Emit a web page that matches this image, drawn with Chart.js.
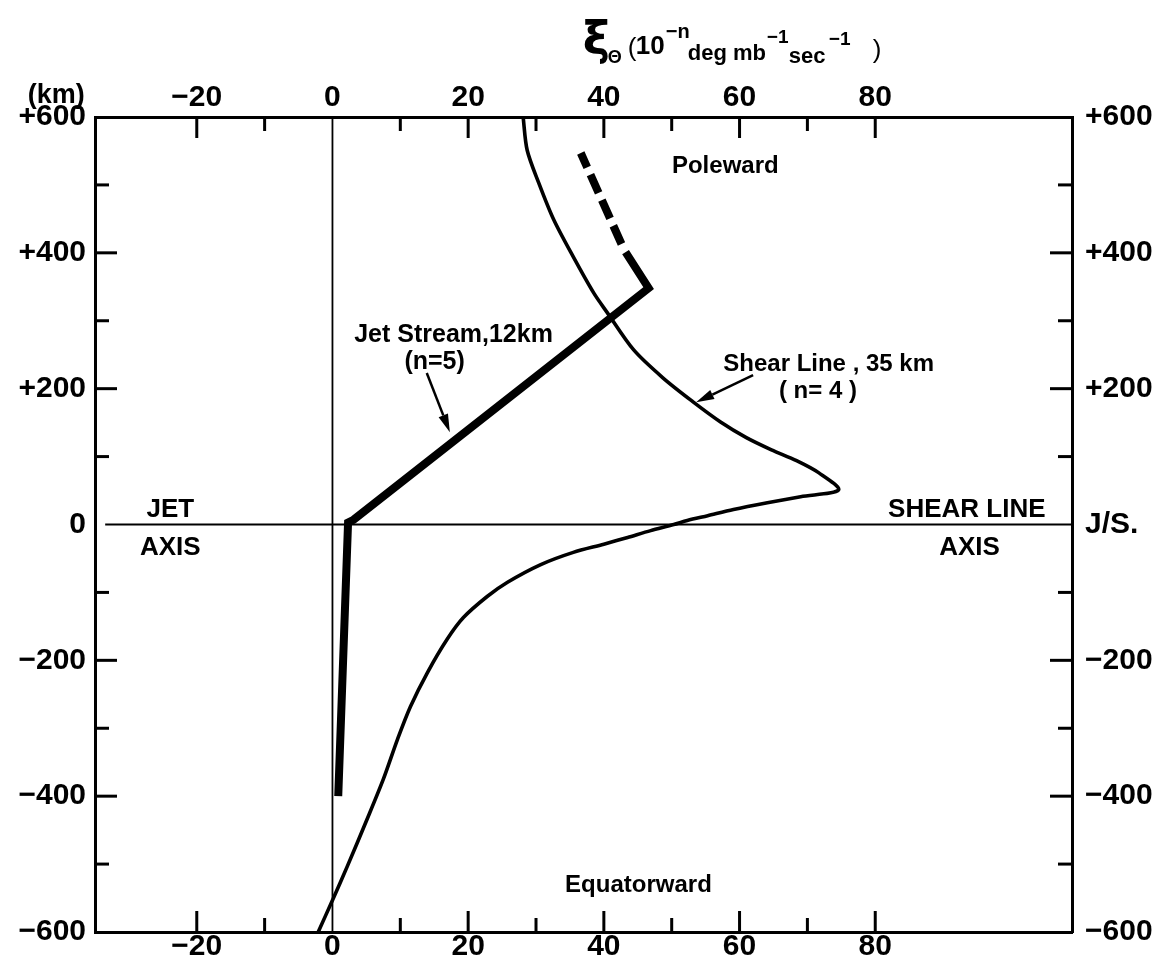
<!DOCTYPE html>
<html>
<head>
<meta charset="utf-8">
<title>Shear line and jet stream profiles</title>
<script src="https://cdn.jsdelivr.net/npm/chart.js@4.4.1/dist/chart.umd.min.js"></script>
<style>
  body { margin: 0; background: #fff; }
  #wrap { width: 1160px; height: 960px; }
</style>
</head>
<body>
<div id="wrap"><canvas id="chart" width="1160" height="960"></canvas></div>
<script>
// distance from the axis in km (+ poleward) and the value
const shearY = [600, 551, 503, 449, 394, 341, 312, 257, 216, 181, 151, 128, 110, 94, 76, 51,
                41, 32, 22, 13, 6, 0, -9, -19, -29, -41, -59, -85, -106, -137, -169, -218,
                -268, -316, -375, -434, -503, -551, -600];
const shearX = [28.1, 28.7, 30.4, 32.6, 35.5, 38.5, 40.5, 44.4, 48.7, 53.1, 57.2, 61.0, 64.7, 68.4, 71.7, 74.6,
                69.0, 64.1, 59.1, 55.3, 52.3, 50.3, 46.9, 43.5, 40.0, 35.5, 30.7, 25.8, 22.8, 19.3, 16.9, 14.0,
                11.5, 9.6, 7.5, 5.1, 2.2, 0.1, -2.1];

const jetY = [-400, 3, 7, 348, 401];
const jetX = [0.85, 2.3, 3.1, 46.6, 43.2];
const jetDashY = [413, 547];
const jetDashX = [42.6, 36.6];

const xTicks = [-20, 0, 20, 40, 60, 80];
const yTicks = [-600, -400, -200, 0, 200, 400, 600];
const xMin = -35, xMax = 109, yMin = -600, yMax = 600;

function pts(xs, ys) {
    return xs.map((x, i) => ({ x: x, y: ys[i] }));
}

const FONT = 'Liberation Sans';

// labels written on the figure, placed in data units
const notes = [
    { text: 'Poleward', x: 57.9, y: 528, align: 'center', size: 24 },
    { text: 'Equatorward', x: 45.1, y: -531, align: 'center', size: 24 },
    { text: 'Jet Stream,12km', x: 3.2, y: 279, align: 'left', size: 25 },
    { text: '(n=5)', x: 10.6, y: 239, align: 'left', size: 25 },
    { text: 'Shear Line , 35 km', x: 57.6, y: 236, align: 'left', size: 24 },
    { text: '( n= 4 )', x: 65.8, y: 196, align: 'left', size: 24 },
    { text: 'JET', x: -23.9, y: 22, align: 'center', size: 26 },
    { text: 'AXIS', x: -23.9, y: -35, align: 'center', size: 26 },
    { text: 'SHEAR LINE', x: 93.5, y: 22, align: 'center', size: 26 },
    { text: 'AXIS', x: 93.9, y: -35, align: 'center', size: 26 },
    { text: '(km)', x: -36.5, y: 632, align: 'right', size: 27 }
];
const arrows = [
    { from: [13.9, 223], to: [17.3, 136] },
    { from: [62.0, 220], to: [53.6, 180] }
];
// axis title pieces: offset from the start of the title, baseline, font
const titleParts = [
    { t: 'ξ', dx: 0, y: 54, font: 'bold 46px DejaVu Sans' },
    { t: 'Θ', dx: 25, y: 63, font: 'bold 18px ' + FONT },
    { t: '(', dx: 45, y: 56, font: '26px ' + FONT },
    { t: '10', dx: 53, y: 54, font: 'bold 26px ' + FONT },
    { t: '−n', dx: 83, y: 38, font: 'bold 20px ' + FONT },
    { t: 'deg mb', dx: 105, y: 60, font: 'bold 22px ' + FONT },
    { t: '−1', dx: 184, y: 43, font: 'bold 19px ' + FONT },
    { t: 'sec', dx: 206, y: 63, font: 'bold 22px ' + FONT },
    { t: '−1', dx: 246, y: 45, font: 'bold 19px ' + FONT },
    { t: ')', dx: 290, y: 58, font: '26px ' + FONT }
];

function line(ctx, x1, y1, x2, y2) {
    ctx.beginPath();
    ctx.moveTo(x1, y1);
    ctx.lineTo(x2, y2);
    ctx.stroke();
}

const decor = {
    id: 'decor',
    afterDatasetsDraw(chart) {
        const ctx = chart.ctx;
        const xs = chart.scales.x, ys = chart.scales.y;
        const a = chart.chartArea;
        ctx.save();
        ctx.strokeStyle = '#000';
        ctx.fillStyle = '#000';
        ctx.lineWidth = 3;

        // inward tick marks
        for (let v = -20; v <= 80; v += 10) {
            if (v === 0) continue;
            const len = v % 20 === 0 ? 21 : 14;
            const px = xs.getPixelForValue(v);
            line(ctx, px, a.top, px, a.top + len);
            line(ctx, px, a.bottom, px, a.bottom - len);
        }
        for (let v = -500; v <= 500; v += 100) {
            if (v === 0) continue;
            const len = v % 200 === 0 ? 22 : 14;
            const py = ys.getPixelForValue(v);
            line(ctx, a.left, py, a.left + len, py);
            line(ctx, a.right, py, a.right - len, py);
        }

        // arrows
        ctx.lineWidth = 2.5;
        arrows.forEach(ar => {
            const x1 = xs.getPixelForValue(ar.from[0]), y1 = ys.getPixelForValue(ar.from[1]);
            const x2 = xs.getPixelForValue(ar.to[0]), y2 = ys.getPixelForValue(ar.to[1]);
            const ang = Math.atan2(y2 - y1, x2 - x1);
            const hl = 18, hw = 5;
            const bx = x2 - hl * Math.cos(ang), by = y2 - hl * Math.sin(ang);
            line(ctx, x1, y1, bx, by);
            ctx.beginPath();
            ctx.moveTo(x2, y2);
            ctx.lineTo(bx + hw * Math.sin(ang), by - hw * Math.cos(ang));
            ctx.lineTo(bx - hw * Math.sin(ang), by + hw * Math.cos(ang));
            ctx.closePath();
            ctx.fill();
        });

        // text notes
        ctx.textBaseline = 'middle';
        notes.forEach(n => {
            ctx.font = 'bold ' + n.size + 'px ' + FONT;
            ctx.textAlign = n.align;
            ctx.fillText(n.text, xs.getPixelForValue(n.x), ys.getPixelForValue(n.y));
        });

        // axis title above the top scale
        ctx.textAlign = 'left';
        ctx.textBaseline = 'alphabetic';
        const tx = xs.getPixelForValue(36.9);
        titleParts.forEach(p => {
            ctx.font = p.font;
            ctx.fillText(p.t, tx + p.dx, p.y);
        });
        ctx.restore();
    }
};

function fixTicks(list) {
    return scale => { scale.ticks = list.map(v => ({ value: v })); };
}
function signed(v) {
    return v > 0 ? '+' + v : (v < 0 ? '−' + Math.abs(v) : '0');
}
const tickFont = { family: FONT, size: 30, weight: 'bold', lineHeight: 1 };

const ctx = document.getElementById('chart').getContext('2d');
new Chart(ctx, {
    type: 'line',
    data: {
        datasets: [
            {
                label: 'Jet axis',
                data: [{ x: -33.5, y: 0 }, { x: xMax, y: 0 }],
                borderColor: '#000', borderWidth: 1.8, pointRadius: 0
            },
            {
                label: 'Zero',
                data: [{ x: 0, y: yMin }, { x: 0, y: yMax }],
                borderColor: '#000', borderWidth: 1.8, pointRadius: 0
            },
            {
                label: 'Shear Line, 35 km (n=4)',
                data: pts(shearX, shearY),
                borderColor: '#000', borderWidth: 3.6, pointRadius: 0, tension: 0.3
            },
            {
                label: 'Jet Stream, 12 km (n=5)',
                data: pts(jetX, jetY),
                borderColor: '#000', borderWidth: 8, pointRadius: 0,
                borderCapStyle: 'butt', borderJoinStyle: 'miter'
            },
            {
                label: 'Jet Stream, upper part',
                data: pts(jetDashX, jetDashY),
                borderColor: '#000', borderWidth: 8, pointRadius: 0,
                borderCapStyle: 'butt', borderDash: [20, 8]
            }
        ]
    },
    options: {
        responsive: false,
        animation: false,
        devicePixelRatio: 1,
        layout: { padding: 0 },
        plugins: { legend: { display: false }, tooltip: { enabled: false } },
        scales: {
            x: {
                type: 'linear', position: 'bottom', min: xMin, max: xMax,
                afterBuildTicks: fixTicks(xTicks),
                afterFit: s => { s.height = 27; },
                grid: { display: false, drawTicks: false },
                border: { display: true, width: 3, color: '#000' },
                ticks: { color: '#000', font: tickFont, padding: 0, callback: v => signed(v).replace('+', '') }
            },
            x2: {
                type: 'linear', position: 'top', min: xMin, max: xMax,
                afterBuildTicks: fixTicks(xTicks),
                afterFit: s => { s.height = 117; },
                grid: { display: false, drawTicks: false },
                border: { display: true, width: 3, color: '#000' },
                ticks: { color: '#000', font: tickFont, padding: 4, callback: v => signed(v).replace('+', '') }
            },
            y: {
                type: 'linear', position: 'left', min: yMin, max: yMax,
                afterBuildTicks: fixTicks(yTicks),
                afterFit: s => { s.width = 95; },
                grid: { display: false, drawTicks: false },
                border: { display: true, width: 3, color: '#000' },
                ticks: { color: '#000', font: tickFont, padding: 9, callback: v => signed(v) }
            },
            y2: {
                type: 'linear', position: 'right', min: yMin, max: yMax,
                afterBuildTicks: fixTicks(yTicks),
                afterFit: s => { s.width = 88; },
                grid: { display: false, drawTicks: false },
                border: { display: true, width: 3, color: '#000' },
                ticks: { color: '#000', font: tickFont, padding: 13, callback: v => v === 0 ? 'J/S.' : signed(v) }
            }
        }
    },
    plugins: [decor]
});
</script>
</body>
</html>
